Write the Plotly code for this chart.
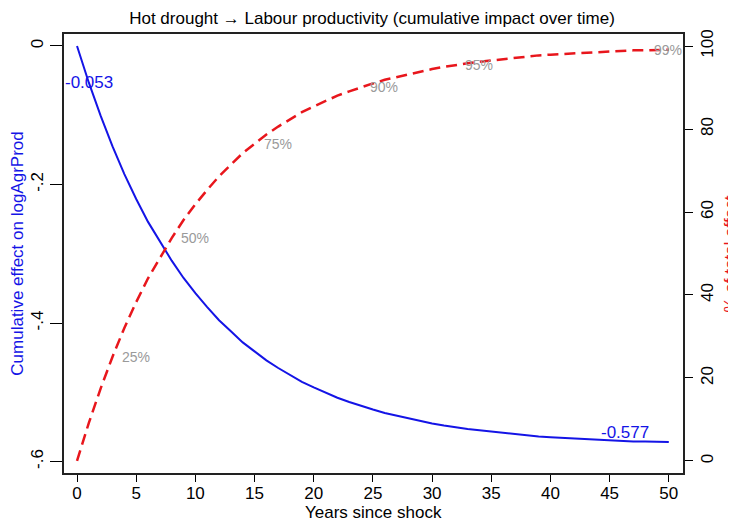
import plotly.graph_objects as go

# ---- data ----
years = list(range(0, 51))
cum_effect = [0.000, -0.053, -0.101, -0.145, -0.185, -0.221, -0.254, -0.283, -0.310, -0.335,
              -0.357, -0.377, -0.396, -0.412, -0.428, -0.441, -0.454, -0.465, -0.475, -0.485,
              -0.493, -0.501, -0.508, -0.514, -0.520, -0.525, -0.530, -0.534, -0.538, -0.542,
              -0.545, -0.548, -0.551, -0.553, -0.555, -0.557, -0.559, -0.561, -0.562, -0.564,
              -0.565, -0.566, -0.567, -0.568, -0.569, -0.570, -0.570, -0.571, -0.571, -0.572,
              -0.572]
total_effect = -0.577
milestone_labels = ["25%", "50%", "75%", "90%", "95%", "99%"]
milestone_years = [3, 8, 15, 24, 32, 48]

x_ticks = [0, 5, 10, 15, 20, 25, 30, 35, 40, 45, 50]
y_left_ticks = [0, -0.2, -0.4, -0.6]
y_left_ticktext = ["0", "-.2", "-.4", "-.6"]
y_right_ticks = [0, 20, 40, 60, 80, 100]

pct_of_total = [c / total_effect * 100 for c in cum_effect]

FONT = "Liberation Sans, Arial, Helvetica, sans-serif"
BLUE = "#1414e6"
RED = "#e8161c"
GREY = "#9a9a9a"

fig = go.Figure()
fig.add_trace(go.Scatter(x=years, y=cum_effect, mode="lines",
                         line=dict(color=BLUE, width=2), yaxis="y", showlegend=False))
fig.add_trace(go.Scatter(x=years, y=pct_of_total, mode="lines",
                         line=dict(color=RED, width=2.5, dash="11px,6px"), yaxis="y2",
                         showlegend=False))

annotations = []
for lab, yr in zip(milestone_labels, milestone_years):
    annotations.append(dict(x=yr, y=pct_of_total[yr], xref="x", yref="y2", text=lab,
                            showarrow=False, xanchor="left", yanchor="middle", xshift=7,
                            font=dict(family=FONT, size=14, color=GREY)))
annotations.append(dict(x=1, y=cum_effect[1], xref="x", yref="y", text=f"{cum_effect[1]:.3f}",
                        showarrow=False, xanchor="center", yanchor="middle",
                        font=dict(family=FONT, size=17, color=BLUE)))
annotations.append(dict(x=46.3, y=total_effect, xref="x", yref="y", text=f"{total_effect:.3f}",
                        showarrow=False, xanchor="center", yanchor="bottom", yshift=2,
                        font=dict(family=FONT, size=17, color=BLUE)))
# axis titles placed as text in paper coordinates
annotations.append(dict(x=0.5, y=-0.0911, xref="paper", yref="paper",
                        text="Years since shock", showarrow=False,
                        xanchor="center", yanchor="middle",
                        font=dict(family=FONT, size=17, color="black")))
annotations.append(dict(x=1.0775, y=0.5, xref="paper", yref="paper",
                        text="% of total effect", showarrow=False, textangle=-90,
                        xanchor="center", yanchor="middle",
                        font=dict(family=FONT, size=17, color=RED)))

fig.update_layout(
    width=736, height=522,
    margin=dict(l=56, r=61, t=26, b=57, autoexpand=False),
    paper_bgcolor="white", plot_bgcolor="white",
    font=dict(family=FONT, size=16, color="black"),
    title=dict(text="Hot drought \u2192 Labour productivity (cumulative impact over time)",
               x=0.4946, xanchor="center", y=0.981, yanchor="middle",
               font=dict(family=FONT, size=17, color="black")),
    xaxis=dict(range=[-1.1, 51.2], tickvals=x_ticks, ticks="outside", ticklen=7,
               tickcolor="black", showline=True, linecolor="#222", linewidth=1.5,
               mirror=True, showgrid=False, zeroline=False, automargin=False,
               ticklabelstandoff=-3, tickfont=dict(size=17)),
    yaxis=dict(range=[-0.6166, 0.0173], tickvals=y_left_ticks, ticktext=y_left_ticktext,
               ticks="outside", ticklen=12, tickcolor="black", tickangle=-90,
               showline=True, linecolor="#222", linewidth=1.5, showgrid=False,
               zeroline=False, automargin=False, tickfont=dict(size=17),
               title=dict(text="Cumulative effect on logAgrProd", standoff=14,
                          font=dict(size=17, color=BLUE))),
    yaxis2=dict(range=[-2.9, 102.9], tickvals=y_right_ticks, overlaying="y", side="right",
                ticks="outside", ticklen=8, tickcolor="black", tickangle=-90,
                showline=True, linecolor="#222", linewidth=1.5, showgrid=False,
                zeroline=False, automargin=False, tickfont=dict(size=17)),
    annotations=annotations,
)

fig.write_html("out.html")
